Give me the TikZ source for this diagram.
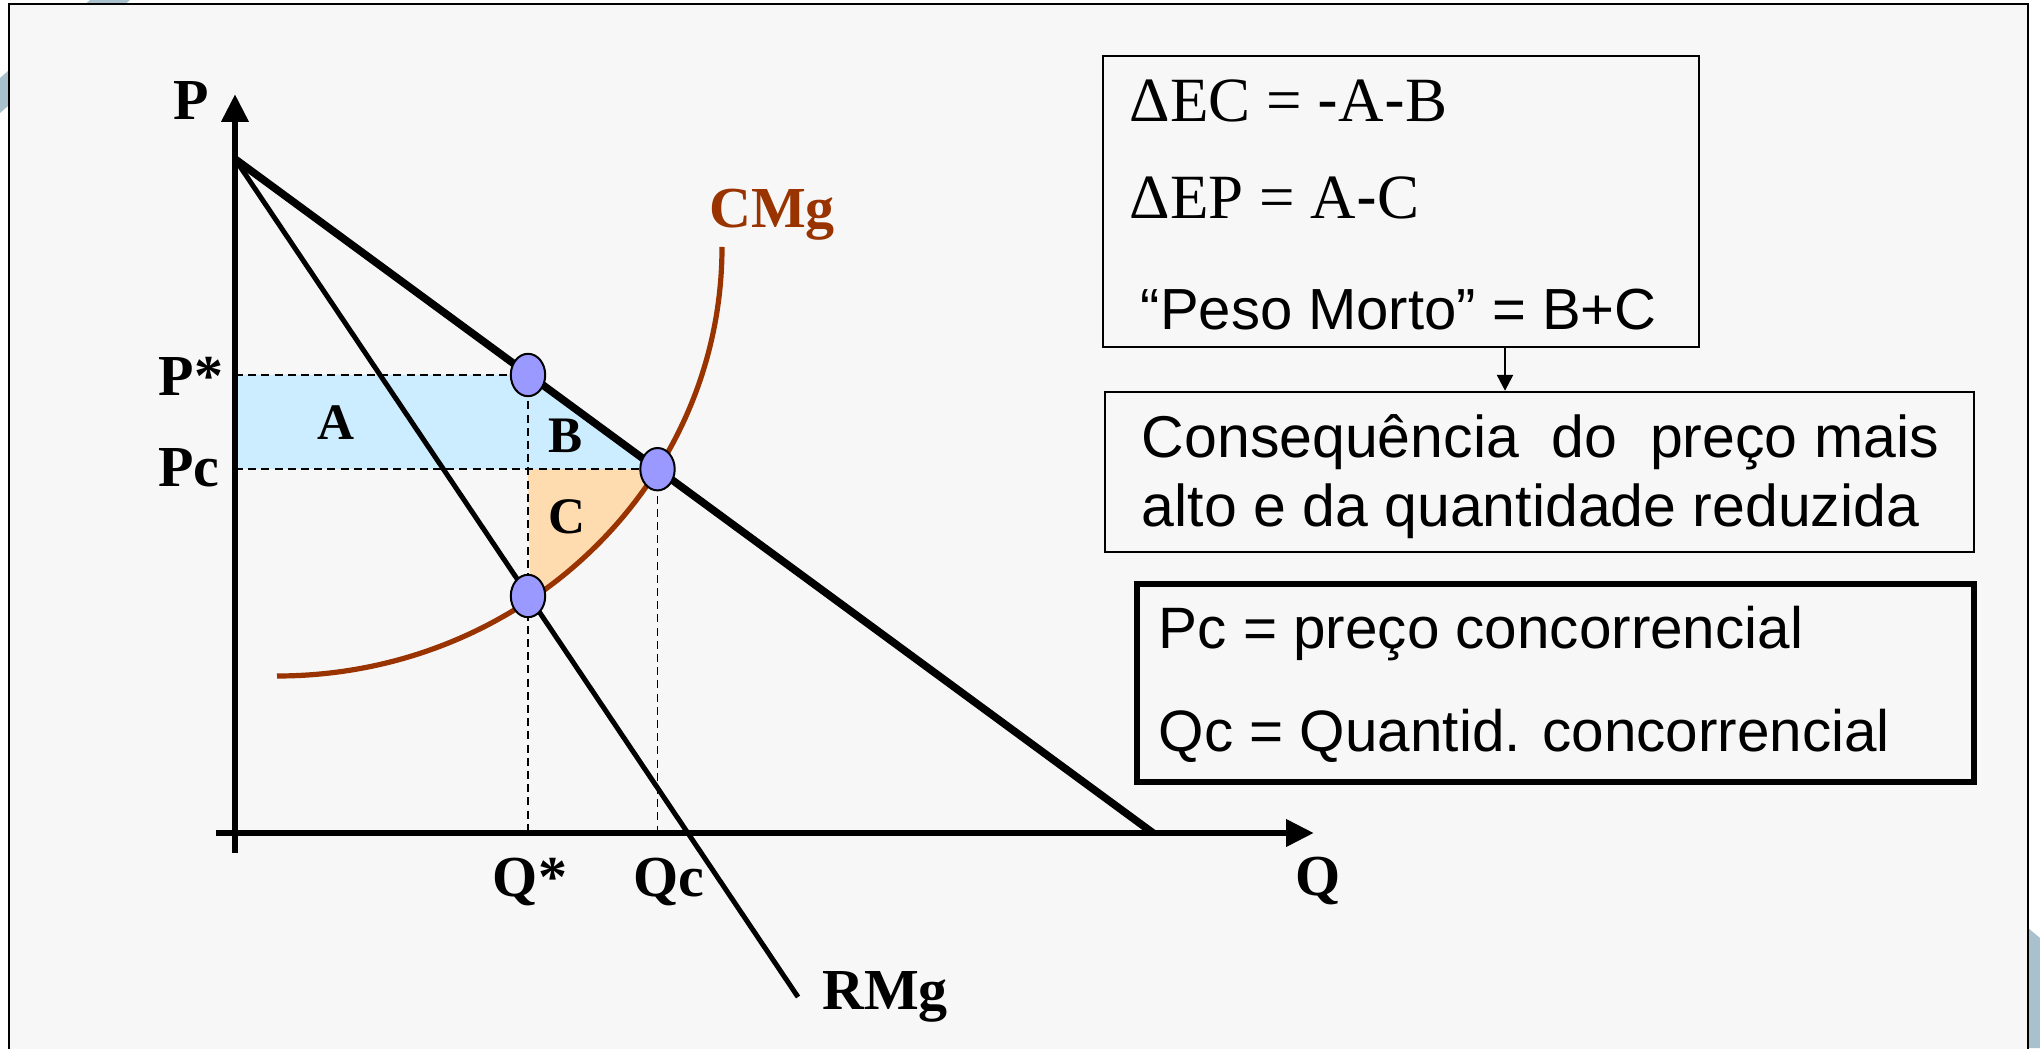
\documentclass[tikz,border=0pt]{standalone}
\usepackage{fontspec}
\setmainfont{Liberation Serif}
\setsansfont{Liberation Sans}
\usetikzlibrary{arrows.meta}
\usetikzlibrary{positioning}
\usetikzlibrary{shapes.geometric}

\definecolor{cmgred}{HTML}{993300}
\definecolor{areablue}{HTML}{CCECFF}
\definecolor{areaorange}{HTML}{FFDCB0}
\definecolor{dotblue}{HTML}{9999FF}
\definecolor{slidebg}{HTML}{F7F7F7}
\definecolor{decor}{HTML}{A9C0CD}

\tikzset{
	lbl/.style={font=\fontsize{14.5}{17}\selectfont\bfseries},
	arealbl/.style={font=\fontsize{12.8}{15}\selectfont\bfseries},
	eqpt/.style={ellipse,draw,line width=0.5pt,fill=dotblue,minimum width=8.6pt,minimum height=10.6pt,inner sep=0pt},
	guide/.style={line width=0.45pt,dash pattern=on 2pt off 1.3pt},
	txt/.style={font=\sffamily\fontsize{14.75}{17}\selectfont,anchor=west,inner sep=0pt},
	infobox/.style={draw,line width=0.6pt,inner sep=0pt},
	axisarrow/.style={-{Triangle[width=6.5pt,length=7pt]}},
}

\begin{document}
\begin{tikzpicture}[x=25pt,y=25pt]
		\useasboundingbox (-2.35,-2.15) rectangle (18.05,8.33);
		\clip (-2.35,-2.15) rectangle (18.05,8.33);
		\fill[white] (-2.35,-2.15) rectangle (18.05,8.33);
		
		% slide background
		\fill[decor] (-2.35,7.55) -- (-1.45,8.33) -- (-1.05,8.33) -- (-2.35,7.2) -- cycle;
		\fill[decor] (17.93,-0.95) -- (18.05,-1.05) -- (18.05,-2.15) -- (17.93,-2.15) -- cycle;
		\draw[line width=0.6pt,fill=slidebg] (-2.26,-2.5) rectangle (17.93,8.29);
		
		% points of the diagram
		\coordinate (O) at (0,0);
		\coordinate (top) at (0,6.74);
		\coordinate (dend) at (9.18,0);
		\coordinate (rend) at (5.63,-1.64);
		\coordinate (ps) at (2.93,4.58);
		\coordinate (pc) at (4.225,3.638);
		\coordinate (qs) at (2.93,2.37);
		
		% areas A+B and C
		\fill[areablue] (0,4.58) -- (ps) -- (pc) -- (0,3.638) -- cycle;
		\fill[areaorange] (2.93,3.638) -- (pc)
			arc[start angle=328.8,end angle=304.7,x radius=4.45,y radius=4.29] -- cycle;
		
		% dashed guides
		\draw[guide] (0,4.58) -- (ps);
		\draw[guide] (0,3.638) -- (pc);
		\draw[guide] (ps) -- (ps |- O);
		\draw[guide] (pc) -- (pc |- O);
		
		% axes
		\draw[line width=1.7pt,axisarrow] (0,-0.2) -- (0,7.39);
		\draw[line width=1.7pt,axisarrow] (-0.19,0) -- (10.79,0);
		\node[lbl] (ylab) at (-0.44,7.32) {P};
		\node[lbl] (xlab) at (10.83,-0.48) {Q};
		
		% demand, RMg and CMg
		\draw[line width=1.9pt] (top) -- (dend);
		\draw[line width=1.25pt] (top) -- (rend);
		\draw[cmgred,line width=1.3pt] (0.42,1.57)
			arc[start angle=270,end angle=360,x radius=4.45,y radius=4.29];
		\node[lbl,anchor=west] (rmg) at ([xshift=2.5pt]rend) {RMg};
		\node[lbl,text=cmgred] (cmg) at (5.37,6.18) {CMg};
		
		\node[lbl] (pslab) at (-0.44,4.57) {P*};
		\node[lbl] (pclab) at (-0.46,3.65) {Pc};
		\node[lbl] (qslab) at (2.95,-0.49) {Q*};
		\node[lbl] (qclab) at (4.34,-0.49) {Qc};
		\node[arealbl] (alab) at (1.01,4.10) {A};
		\node[arealbl] (blab) at (3.31,3.97) {B};
		\node[arealbl] (clab) at (3.32,3.16) {C};
		
		\node[eqpt] (Pstar) at (ps) {};
		\node[eqpt] (Pcomp) at (pc) {};
		\node[eqpt] (Qstar) at (qs) {};
		
		% boxes on the right
		\node[infobox,minimum width=149pt,minimum height=72.75pt] (ebox) at (11.66,6.315) {};
		\node[infobox,minimum width=217.25pt,minimum height=40pt] (cbox) at (13.045,3.61) {};
		\node[infobox,line width=1.5pt,minimum width=209.25pt,minimum height=49.5pt] (dbox) at (13.205,1.50) {};
		\draw[line width=0.6pt,-{Triangle[width=4pt,length=4pt]}] (12.70,0 |- ebox.south) -- (12.70,0 |- cbox.north);
		
		\node[txt,font=\rmfamily\fontsize{15.75}{18}\selectfont] (dec) at (8.94,7.32) {ΔEC = {\sffamily -}A{\sffamily -}B};
		\node[txt,font=\rmfamily\fontsize{15.75}{18}\selectfont] (dep) at (8.94,6.35) {ΔEP = A{\sffamily -}C};
		\node[txt,font=\sffamily\fontsize{14.5}{17}\selectfont] (dw) at (9.05,5.23) {“Peso Morto” = B+C};
		\node[txt] (cons1) at (9.06,3.91) {Consequência\ \ do\ \ preço mais};
		\node[txt] (cons2) at (9.06,3.22) {alto e da quantidade reduzida};
		\node[txt,font=\sffamily\fontsize{14.6}{17}\selectfont] (pcdef) at (9.23,1.99) {Pc = preço concorrencial};
		\node[txt,font=\sffamily\fontsize{14.6}{17}\selectfont] (qcdef) at (9.23,0.97) {Qc = Quantid. concorrencial};
	\end{tikzpicture}
\end{document}
